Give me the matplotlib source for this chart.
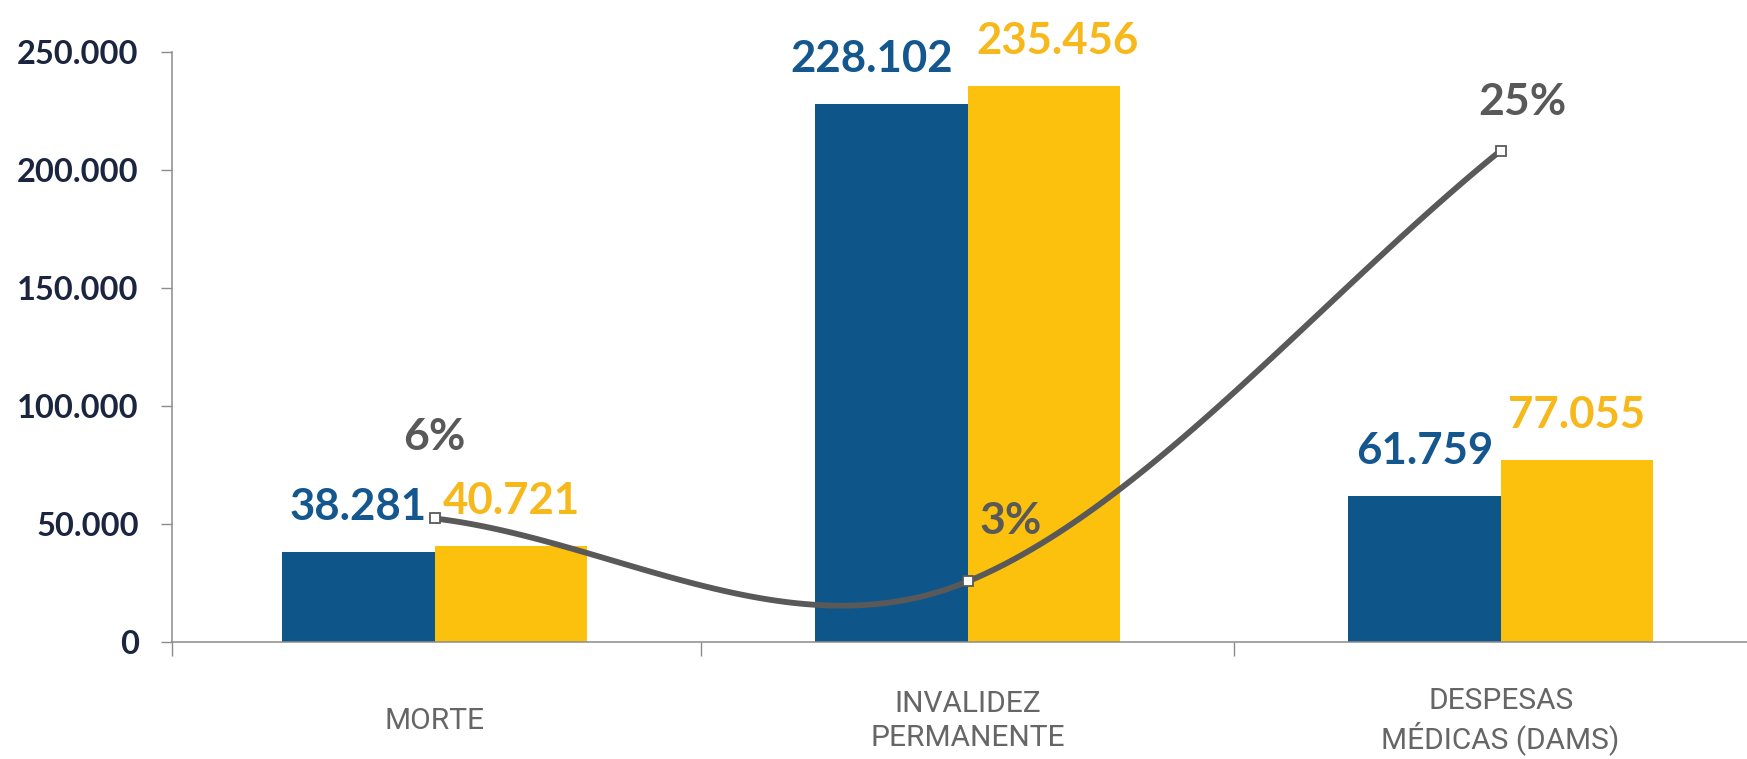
import numpy as np
import matplotlib.pyplot as plt

plt.rcParams['font.family'] = ['Lato', 'DejaVu Sans']

categories = ['MORTE', 'INVALIDEZ\nPERMANENTE', 'DESPESAS\nMÉDICAS (DAMS)']
serie_ant = [38281, 228102, 61759]
serie_atu = [40721, 235456, 77055]
growth = [b / a - 1 for a, b in zip(serie_ant, serie_atu)]
growth_labels = ['6%', '3%', '25%']
y_ticks = [0, 50000, 100000, 150000, 200000, 250000]

blue = '#0E5589'
yellow = '#FCC10D'
blue_txt = '#14578F'
yellow_txt = '#F6B81A'
gray = '#595959'
axis_gray = '#8C8C8C'


def fmt(v):
    return f'{v:,}'.replace(',', '.')


def smooth(xs, ys, n=60):
    # hermite spline, tangents like excel's smoothed line
    xs = np.asarray(xs, float)
    ys = np.asarray(ys, float)
    m = np.zeros_like(ys)
    m[0] = ys[1] - ys[0]
    m[-1] = ys[-1] - ys[-2]
    for i in range(1, len(ys) - 1):
        m[i] = 1.2 * (ys[i + 1] - ys[i - 1]) / 2
    px, py = [], []
    for i in range(len(ys) - 1):
        t = np.linspace(0, 1, n)
        h00 = 2 * t**3 - 3 * t**2 + 1
        h10 = t**3 - 2 * t**2 + t
        h01 = -2 * t**3 + 3 * t**2
        h11 = t**3 - t**2
        px.append(xs[i] + t * (xs[i + 1] - xs[i]))
        py.append(h00 * ys[i] + h10 * m[i] + h01 * ys[i + 1] + h11 * m[i + 1])
    return np.concatenate(px), np.concatenate(py)


fig = plt.figure(figsize=(17.47, 7.59), dpi=100)
ax = fig.add_axes([0.0985, 0.1542, 0.913, 0.7773])

x = np.arange(len(categories))
w = 0.286
ax.bar(x - w / 2, serie_ant, w, color=blue, zorder=2)
ax.bar(x + w / 2, serie_atu, w, color=yellow, zorder=2)

# labels in the middle group were nudged apart in the original
shift_ant = [0, -14, 0]
shift_atu = [0, 10, 0]
for xi, v, dx in zip(x, serie_ant, shift_ant):
    ax.annotate(fmt(v), (xi - w / 2, v), xytext=(dx, 23), textcoords='offset points',
                ha='center', va='baseline', fontsize=31.5, fontweight='bold', color=blue_txt)
for xi, v, dx in zip(x, serie_atu, shift_atu):
    ax.annotate(fmt(v), (xi + w / 2, v), xytext=(dx, 23), textcoords='offset points',
                ha='center', va='baseline', fontsize=31.5, fontweight='bold', color=yellow_txt)

ax.set_xlim(-0.493, 2.5)
ax.set_ylim(0, 250000)
ax.set_yticks(y_ticks)
ax.set_yticklabels([fmt(v) for v in y_ticks], fontsize=23.5, fontweight='bold', color='#1B2540')
ax.tick_params(axis='y', length=8, width=1, color=axis_gray, pad=16)

ax.set_xticks(x)
ax.set_xticklabels(categories, fontsize=21.5, color='#666666', family=['Roboto', 'DejaVu Sans'],
                   linespacing=1.25)
ax.set_xticks([-0.493, 0.5, 1.5], minor=True)
ax.tick_params(axis='x', which='major', length=0, pad=57)
ax.tick_params(axis='x', which='minor', length=10, width=1, color=axis_gray)
for lbl in ax.get_xticklabels():
    lbl.set_va('center')

for s in ['top', 'right']:
    ax.spines[s].set_visible(False)
for s in ['left', 'bottom']:
    ax.spines[s].set_color(axis_gray)
    ax.spines[s].set_linewidth(1.1)

ax2 = ax.twinx()
ax2.set_ylim(0.002, 0.297)
ax2.axis('off')
sx, sy = smooth(x, growth)
ax2.plot(sx, sy, color=gray, lw=4.2, solid_capstyle='round', zorder=3)
ax2.plot(x, growth, ls='none', marker='s', ms=7, mfc='white', mec=gray, mew=1.3, zorder=4)

offsets = [(0, 49), (31, 34), (16, 26)]
for xi, g, lab, off in zip(x, growth, growth_labels, offsets):
    ax2.annotate(lab, (xi, g), xytext=off, textcoords='offset points',
                 ha='center', va='baseline', fontsize=32, fontweight='bold', color=gray)

fig.savefig('out.png', dpi=100)
